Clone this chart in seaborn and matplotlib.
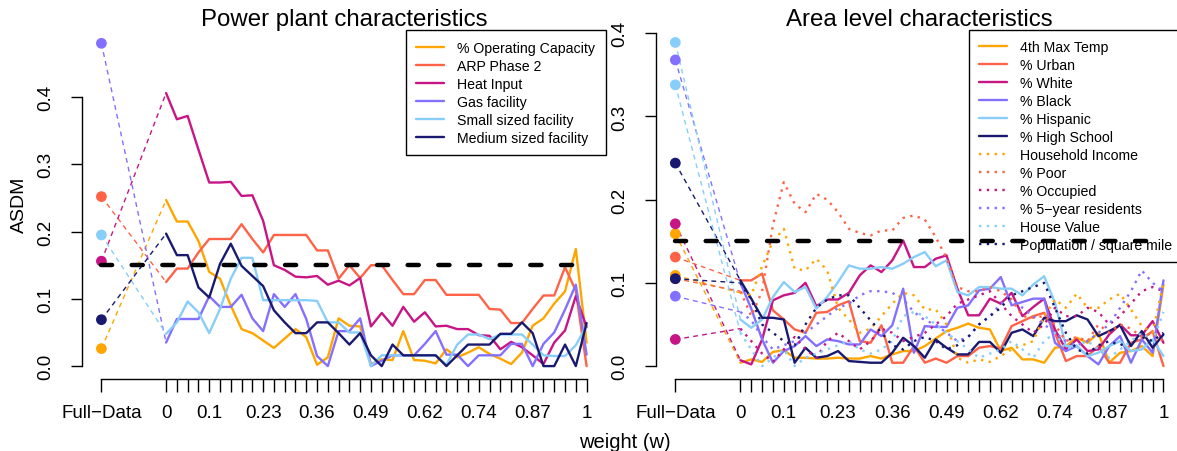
import numpy as np
import pandas as pd
import matplotlib
matplotlib.use("Agg")
import matplotlib.pyplot as plt
import seaborn as sns
from matplotlib.lines import Line2D

sns.set_style("ticks")
plt.rcParams["font.family"] = ["Liberation Sans", "DejaVu Sans"]
plt.rcParams["text.color"] = "black"
plt.rcParams["xtick.color"] = "black"
plt.rcParams["ytick.color"] = "black"
plt.rcParams["axes.labelcolor"] = "black"

# x axis: "Full-Data" slot followed by the 40 weights on the grid 0..1
full_slot = -6
n_weights = 40
weight_label_idx = [0, 4, 9, 14, 19, 24, 29, 34, 39]
weight_labels = ["0", "0.1", "0.23", "0.36", "0.49", "0.62", "0.74", "0.87", "1"]
threshold = 0.15

# ---- power plant characteristics ----
plant_names = ["% Operating Capacity", "ARP Phase 2", "Heat Input",
               "Gas facility", "Small sized facility", "Medium sized facility"]
plant_colors = ["#FFA500", "#FF6347", "#C71585", "#8470FF", "#87CEFA", "#191970"]
plant_full = [0.026, 0.252, 0.156, 0.480, 0.195, 0.069]

op_capacity = [0.247, 0.215, 0.215, 0.186, 0.140, 0.130, 0.090, 0.055, 0.049, 0.038,
               0.027, 0.041, 0.055, 0.043, 0.002, 0.013, 0.071, 0.060, 0.059, 0.003,
               0.010, 0.009, 0.052, 0.009, 0.008, 0.004, 0.025, 0.013, 0.020, 0.028,
               0.018, 0.011, 0.003, 0.020, 0.060, 0.071, 0.093, 0.111, 0.174, 0.035]
arp_phase2 = [0.125, 0.145, 0.145, 0.169, 0.189, 0.189, 0.189, 0.211, 0.189, 0.169,
              0.195, 0.195, 0.195, 0.195, 0.172, 0.172, 0.130, 0.150, 0.131, 0.150,
              0.150, 0.128, 0.107, 0.107, 0.128, 0.128, 0.106, 0.106, 0.106, 0.106,
              0.085, 0.084, 0.064, 0.064, 0.085, 0.105, 0.105, 0.147, 0.112, 0.000]
heat_input = [0.406, 0.367, 0.372, 0.322, 0.273, 0.273, 0.274, 0.253, 0.254, 0.216,
              0.150, 0.143, 0.133, 0.132, 0.134, 0.121, 0.127, 0.120, 0.131, 0.059,
              0.079, 0.060, 0.088, 0.066, 0.080, 0.059, 0.060, 0.055, 0.055, 0.046,
              0.045, 0.025, 0.036, 0.028, 0.016, 0.003, 0.035, 0.053, 0.104, 0.058]
gas_facility = [0.035, 0.070, 0.070, 0.070, 0.104, 0.088, 0.088, 0.106, 0.071, 0.052,
                0.107, 0.088, 0.107, 0.070, 0.015, 0.000, 0.052, 0.052, 0.071, 0.000,
                0.008, 0.016, 0.016, 0.016, 0.033, 0.052, 0.017, 0.017, 0.000, 0.016,
                0.016, 0.016, 0.033, 0.033, 0.000, 0.033, 0.050, 0.084, 0.121, 0.017]
small_facility = [0.048, 0.065, 0.096, 0.080, 0.049, 0.085, 0.130, 0.161, 0.161, 0.098,
                  0.098, 0.098, 0.098, 0.098, 0.097, 0.065, 0.065, 0.050, 0.050, 0.000,
                  0.016, 0.016, 0.016, 0.016, 0.016, 0.016, 0.002, 0.032, 0.047, 0.047,
                  0.040, 0.047, 0.047, 0.047, 0.032, 0.016, 0.015, 0.015, 0.031, 0.060]
medium_facility = [0.197, 0.165, 0.165, 0.117, 0.102, 0.152, 0.182, 0.149, 0.134, 0.119,
                   0.083, 0.065, 0.049, 0.049, 0.065, 0.065, 0.049, 0.032, 0.049, 0.016,
                   0.000, 0.032, 0.016, 0.016, 0.016, 0.016, 0.000, 0.016, 0.032, 0.032,
                   0.032, 0.048, 0.048, 0.065, 0.049, 0.000, 0.000, 0.032, 0.000, 0.064]

# ---- area level characteristics ----
area_names = ["4th Max Temp", "% Urban", "% White", "% Black", "% Hispanic",
              "% High School", "Household Income", "% Poor", "% Occupied",
              "% 5\u2212year residents", "House Value", "Population / square mile"]
area_colors = plant_colors + plant_colors
area_dotted = [False] * 6 + [True] * 6
area_full = [0.159, 0.131, 0.171, 0.368, 0.389, 0.244,
             0.109, 0.105, 0.032, 0.084, 0.338, 0.105]

max_temp = [0.004, 0.008, 0.005, 0.017, 0.019, 0.010, 0.010, 0.009, 0.009, 0.010,
            0.009, 0.009, 0.012, 0.009, 0.014, 0.018, 0.018, 0.024, 0.033, 0.042,
            0.046, 0.051, 0.046, 0.044, 0.018, 0.022, 0.008, 0.008, 0.004, 0.022,
            0.024, 0.034, 0.028, 0.040, 0.004, 0.016, 0.018, 0.024, 0.012, 0.098]
urban = [0.103, 0.103, 0.111, 0.067, 0.056, 0.044, 0.040, 0.064, 0.065, 0.073,
         0.078, 0.030, 0.028, 0.049, 0.004, 0.004, 0.024, 0.004, 0.009, 0.004,
         0.012, 0.012, 0.022, 0.024, 0.021, 0.048, 0.054, 0.060, 0.064, 0.040,
         0.006, 0.012, 0.012, 0.024, 0.004, 0.004, 0.028, 0.032, 0.042, 0.000]
white = [0.007, 0.002, 0.032, 0.079, 0.085, 0.088, 0.100, 0.072, 0.080, 0.080,
         0.088, 0.109, 0.121, 0.113, 0.127, 0.151, 0.119, 0.119, 0.129, 0.133,
         0.093, 0.061, 0.061, 0.081, 0.075, 0.088, 0.060, 0.071, 0.081, 0.044,
         0.020, 0.032, 0.018, 0.020, 0.038, 0.050, 0.037, 0.037, 0.054, 0.028]
black = [0.100, 0.069, 0.032, 0.004, 0.018, 0.024, 0.036, 0.024, 0.032, 0.030,
         0.026, 0.026, 0.044, 0.036, 0.049, 0.093, 0.016, 0.048, 0.047, 0.047,
         0.070, 0.073, 0.091, 0.093, 0.107, 0.073, 0.077, 0.081, 0.081, 0.028,
         0.018, 0.024, 0.012, 0.002, 0.024, 0.036, 0.004, 0.032, 0.016, 0.103]
hispanic = [0.056, 0.046, 0.056, 0.083, 0.101, 0.089, 0.095, 0.069, 0.083, 0.101,
            0.121, 0.117, 0.117, 0.119, 0.117, 0.123, 0.131, 0.137, 0.120, 0.127,
            0.089, 0.085, 0.095, 0.095, 0.093, 0.093, 0.085, 0.098, 0.108, 0.076,
            0.024, 0.024, 0.012, 0.016, 0.024, 0.030, 0.018, 0.020, 0.032, 0.012]
high_school = [0.103, 0.081, 0.058, 0.058, 0.056, 0.004, 0.022, 0.010, 0.012, 0.018,
               0.006, 0.005, 0.004, 0.004, 0.016, 0.034, 0.024, 0.010, 0.032, 0.022,
               0.014, 0.014, 0.029, 0.029, 0.016, 0.040, 0.044, 0.036, 0.058, 0.054,
               0.054, 0.061, 0.056, 0.036, 0.042, 0.049, 0.024, 0.042, 0.022, 0.038]
household_income = [0.088, 0.085, 0.120, 0.150, 0.165, 0.117, 0.115, 0.129, 0.115, 0.070,
                    0.056, 0.040, 0.045, 0.060, 0.075, 0.088, 0.085, 0.068, 0.068, 0.050,
                    0.010, 0.004, 0.008, 0.005, 0.012, 0.020, 0.025, 0.030, 0.060, 0.080,
                    0.070, 0.087, 0.070, 0.070, 0.080, 0.087, 0.068, 0.048, 0.040, 0.100]
poor = [0.090, 0.060, 0.090, 0.170, 0.221, 0.195, 0.185, 0.207, 0.200, 0.185,
        0.165, 0.160, 0.157, 0.163, 0.163, 0.178, 0.181, 0.176, 0.155, 0.130,
        0.095, 0.090, 0.090, 0.095, 0.090, 0.080, 0.060, 0.058, 0.060, 0.050,
        0.030, 0.035, 0.030, 0.050, 0.040, 0.050, 0.045, 0.035, 0.040, 0.030]
occupied = [0.045, 0.030, 0.015, 0.005, 0.020, 0.035, 0.020, 0.010, 0.030, 0.040,
            0.030, 0.020, 0.030, 0.045, 0.040, 0.030, 0.035, 0.040, 0.050, 0.060,
            0.075, 0.080, 0.085, 0.090, 0.075, 0.060, 0.050, 0.040, 0.050, 0.070,
            0.060, 0.060, 0.070, 0.065, 0.050, 0.060, 0.075, 0.090, 0.095, 0.090]
five_year = [0.065, 0.055, 0.035, 0.020, 0.025, 0.030, 0.040, 0.050, 0.060, 0.070,
             0.075, 0.085, 0.090, 0.090, 0.088, 0.080, 0.065, 0.055, 0.050, 0.040,
             0.030, 0.035, 0.050, 0.060, 0.075, 0.080, 0.070, 0.060, 0.050, 0.040,
             0.030, 0.025, 0.030, 0.040, 0.050, 0.070, 0.090, 0.115, 0.100, 0.090]
house_value = [0.040, 0.020, 0.000, 0.010, 0.020, 0.000, 0.010, 0.015, 0.020, 0.025,
               0.030, 0.020, 0.015, 0.020, 0.030, 0.060, 0.065, 0.060, 0.050, 0.040,
               0.030, 0.020, 0.010, 0.015, 0.020, 0.030, 0.020, 0.010, 0.030, 0.040,
               0.020, 0.025, 0.030, 0.020, 0.010, 0.020, 0.030, 0.040, 0.030, 0.065]
population = [0.100, 0.080, 0.050, 0.040, 0.030, 0.025, 0.050, 0.070, 0.080, 0.085,
              0.085, 0.070, 0.055, 0.040, 0.025, 0.020, 0.030, 0.035, 0.030, 0.020,
              0.025, 0.035, 0.050, 0.060, 0.070, 0.085, 0.090, 0.095, 0.100, 0.070,
              0.040, 0.020, 0.015, 0.025, 0.030, 0.025, 0.030, 0.035, 0.030, 0.040]

plant_series = [op_capacity, arp_phase2, heat_input, gas_facility,
                small_facility, medium_facility]
area_series = [max_temp, urban, white, black, hispanic, high_school,
               household_income, poor, occupied, five_year, house_value, population]

DOT = (1, 2.3)


def long_frame(names, series):
    pos = np.arange(n_weights)
    return pd.concat([pd.DataFrame({"pos": pos, "asdm": vals, "variable": nm})
                      for nm, vals in zip(names, series)], ignore_index=True)


def draw_panel(ax, title, names, colors, dotted, full, series):
    pal = dict(zip(names, colors))
    dashes = {nm: (DOT if d else "") for nm, d in zip(names, dotted)}
    df = long_frame(names, series)

    # dashed connectors from Full-Data to w = 0
    for nm, c, fv, vals in zip(names, colors, full, series):
        sns.lineplot(x=[full_slot, 0], y=[fv, vals[0]], color=c, linewidth=1.0,
                     linestyle=(0, (3.5, 3)), ax=ax)
    sns.lineplot(data=df, x="pos", y="asdm", hue="variable", style="variable",
                 hue_order=names, style_order=names, palette=pal, dashes=dashes,
                 linewidth=1.7, legend=False, ax=ax)
    sns.scatterplot(x=[full_slot] * len(names), y=full, hue=names, palette=pal,
                    s=60, linewidth=0, legend=False, zorder=4, ax=ax)

    ax.plot([full_slot, n_weights - 1], [threshold, threshold], color="black",
            linewidth=3.2, linestyle=(0, (2.5, 4.4)), dash_capstyle="round", zorder=10)

    handles = [Line2D([], [], color=c, linewidth=1.7,
                      linestyle=(0, DOT) if d else "-")
               for c, d in zip(colors, dotted)]
    leg = ax.legend(handles, names, loc="upper right", bbox_to_anchor=(1, 1),
                    borderaxespad=0, fancybox=False, framealpha=1, edgecolor="black",
                    fontsize=10.2, handlelength=1.95, handletextpad=0.95,
                    labelspacing=0.28, borderpad=0.75)
    leg.get_frame().set_linewidth(1.0)
    leg.set_zorder(5)

    lo = min(min(full), min(min(s) for s in series))
    hi = max(max(full), max(max(s) for s in series))
    ypad = 0.04 * (hi - lo)
    xpad = 0.04 * (n_weights - 1 - full_slot)
    ax.set_xlim(full_slot - xpad, n_weights - 1 + xpad)
    ax.set_ylim(lo - ypad, hi + ypad)

    ticks = [full_slot] + list(range(n_weights))
    labels = ["Full\u2212Data"] + [""] * n_weights
    for i, lab in zip(weight_label_idx, weight_labels):
        labels[i + 1] = lab
    ax.set_xticks(ticks)
    ax.set_xticklabels(labels, fontsize=13.5)
    yt = [0.0, 0.1, 0.2, 0.3, 0.4]
    ax.set_yticks(yt)
    ax.set_yticklabels([f"{v:.1f}" for v in yt], fontsize=13.5, rotation=90, va="center")
    ax.tick_params(axis="x", direction="out", length=9, width=1, color="black", pad=9)
    ax.tick_params(axis="y", direction="out", length=8, width=1, color="black", pad=12)

    sns.despine(ax=ax)
    ax.spines["left"].set_bounds(0, 0.4)
    ax.spines["bottom"].set_bounds(full_slot, n_weights - 1)
    for s in ("left", "bottom"):
        ax.spines[s].set_color("black")
        ax.spines[s].set_linewidth(1.0)
    ax.set_xlabel("")
    ax.set_ylabel("")
    ax.set_title(title, fontsize=17.3, pad=2, color="black")


fig = plt.figure(figsize=(11.77, 4.52), dpi=100)
ax1 = fig.add_axes([82 / 1177, 72 / 452, 524 / 1177, 348.6 / 452])
ax2 = fig.add_axes([655.8 / 1177, 72 / 452, 527.2 / 1177, 349.5 / 452])

draw_panel(ax1, "Power plant characteristics", plant_names, plant_colors,
           [False] * 6, plant_full, plant_series)
draw_panel(ax2, "Area level characteristics", area_names, area_colors,
           area_dotted, area_full, area_series)

fig.text(19 / 1177, 1 - 205 / 452, "ASDM", rotation=90, ha="center", va="center",
         fontsize=14)
fig.text(625 / 1177, 1 - 443 / 452, "weight (w)", ha="center", va="center",
         fontsize=14.5)

fig.savefig("out.png", dpi=100)
